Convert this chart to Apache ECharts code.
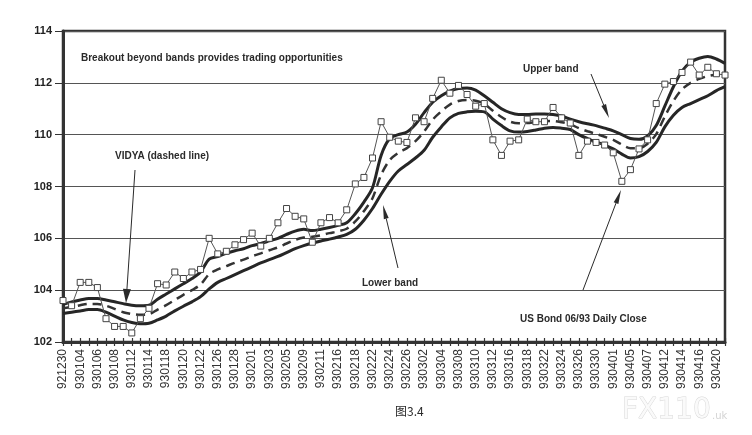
<!DOCTYPE html>
<html>
<head>
<meta charset="utf-8">
<script src="https://cdn.jsdelivr.net/npm/echarts@6/dist/echarts.min.js"></script>
<style>
  html, body { margin: 0; padding: 0; background: #fff; }
  #chart { width: 752px; height: 435px; }
</style>
</head>
<body>
<div id="chart"></div>
<script>
// trading days (labels shown on every other day)
var dates = ['921230','921231','930104','930105','930106','930107','930108','930111','930112','930113',
  '930114','930115','930118','930119','930120','930121','930122','930125','930126','930127',
  '930128','930129','930201','930202','930203','930204','930205','930208','930209','930210',
  '930211','930212','930216','930217','930218','930219','930222','930223','930224','930225',
  '930226','930301','930302','930303','930304','930305','930308','930309','930310','930311',
  '930312','930315','930316','930317','930318','930319','930322','930323','930324','930325',
  '930326','930329','930330','930331','930401','930402','930405','930406','930407','930408',
  '930412','930413','930414','930415','930416','930419','930420','930421'];

// US Bond 06/93 daily close
var closePrice = [103.6,103.4,104.3,104.3,104.1,102.9,102.6,102.6,102.35,102.9,
  103.3,104.25,104.2,104.7,104.45,104.7,104.8,106.0,105.4,105.5,
  105.75,105.95,106.2,105.7,106.0,106.6,107.15,106.85,106.75,105.85,
  106.6,106.8,106.6,107.1,108.1,108.35,109.1,110.5,109.9,109.75,
  109.7,110.65,110.5,111.4,112.1,111.6,111.9,111.55,111.1,111.2,
  109.8,109.2,109.75,109.8,110.6,110.5,110.5,111.05,110.65,110.45,
  109.2,109.75,109.7,109.6,109.3,108.2,108.65,109.45,109.8,111.2,
  111.95,112.05,112.4,112.8,112.3,112.6,112.35,112.3];

var upperBand = [103.45,103.55,103.62,103.68,103.68,103.62,103.55,103.48,103.42,103.4,
  103.42,103.65,103.85,104.05,104.25,104.45,104.7,105.2,105.3,105.42,
  105.52,105.6,105.72,105.8,105.9,106.0,106.15,106.28,106.35,106.3,
  106.35,106.42,106.5,106.6,106.95,107.4,107.95,109.2,109.85,110.0,
  110.1,110.4,110.85,111.25,111.5,111.68,111.78,111.8,111.72,111.5,
  111.25,111.0,110.85,110.78,110.78,110.8,110.8,110.78,110.72,110.6,
  110.5,110.42,110.35,110.25,110.15,110.0,109.85,109.82,109.95,110.35,
  111.1,111.85,112.45,112.8,112.95,113.02,112.92,112.75];

var vidya = [103.3,103.35,103.42,103.47,103.47,103.4,103.28,103.15,103.08,103.05,
  103.07,103.25,103.42,103.62,103.82,104.0,104.22,104.62,104.8,104.93,
  105.06,105.18,105.31,105.42,105.54,105.65,105.8,105.94,106.03,106.06,
  106.12,106.2,106.27,106.37,106.65,107.05,107.55,108.45,109.02,109.3,
  109.48,109.75,110.12,110.58,110.9,111.16,111.3,111.34,111.31,111.19,
  110.92,110.68,110.5,110.44,110.45,110.49,110.52,110.53,110.48,110.4,
  110.25,110.13,110.03,109.92,109.8,109.62,109.48,109.48,109.65,110.02,
  110.7,111.3,111.75,112.0,112.15,112.26,112.31,112.3];

var lowerBand = [103.1,103.15,103.2,103.25,103.25,103.15,103.0,102.85,102.75,102.7,
  102.72,102.85,103.0,103.2,103.38,103.55,103.75,104.05,104.3,104.45,
  104.6,104.75,104.9,105.05,105.18,105.3,105.45,105.6,105.72,105.82,
  105.9,105.97,106.05,106.15,106.35,106.7,107.15,107.7,108.2,108.6,
  108.85,109.1,109.4,109.9,110.3,110.65,110.82,110.88,110.9,110.88,
  110.6,110.35,110.15,110.1,110.12,110.18,110.25,110.28,110.25,110.2,
  110.0,109.85,109.72,109.6,109.45,109.25,109.1,109.15,109.35,109.7,
  110.3,110.75,111.05,111.2,111.35,111.5,111.7,111.85];

var yMin = 102, yMax = 114, yStep = 2;

var chart = echarts.init(document.getElementById('chart'));

var noteFont = 'bold 10px "Liberation Sans", Arial, sans-serif';
var ink = '#2a2a2a';

// thin arrow: line plus a filled head at (x2, y2)
function arrow(x1, y1, x2, y2, headLen, headW) {
  var dx = x2 - x1, dy = y2 - y1;
  var len = Math.sqrt(dx * dx + dy * dy);
  var ux = dx / len, uy = dy / len;
  var bx = x2 - ux * headLen, by = y2 - uy * headLen;
  var px = -uy * headW, py = ux * headW;
  return [
    { type: 'line', shape: { x1: x1, y1: y1, x2: bx, y2: by }, style: { stroke: ink, lineWidth: 1 }, z: 100 },
    { type: 'polygon', shape: { points: [[x2, y2], [bx + px, by + py], [bx - px, by - py]] }, style: { fill: ink }, z: 100 }
  ];
}

function note(text, x, y, font) {
  return { type: 'text', x: x, y: y, z: 100,
    style: { text: text, font: font || noteFont, fill: ink, textVerticalAlign: 'middle' } };
}

var graphics = [
  note('Breakout beyond bands provides trading opportunities', 81, 58),
  note('VIDYA (dashed line)', 115, 156),
  note('Upper band', 523, 69),
  note('Lower band', 362, 283),
  note('US Bond 06/93 Daily Close', 520, 319),
  note('图3.4', 395, 411, '12px "Noto Sans CJK SC", sans-serif'),
  { type: 'text', x: 622, y: 411, z: 1,
    style: { text: 'FX110', font: '28px "DejaVu Sans", sans-serif', fill: '#fafafa', stroke: '#d8d8d8', lineWidth: 1, textVerticalAlign: 'middle' } },
  { type: 'text', x: 712, y: 416, z: 1,
    style: { text: '.uk', font: '10px "DejaVu Sans", sans-serif', fill: '#d4d4d4', textVerticalAlign: 'middle' } }
];
graphics = graphics
  .concat(arrow(135, 170, 126, 303, 14, 4))
  .concat(arrow(591, 74, 609, 118, 14, 2.5))
  .concat(arrow(398, 268, 383, 205, 14, 2.5))
  .concat(arrow(583, 290, 621, 190, 14, 2.5));

var option = {
  backgroundColor: '#fff',
  animation: false,
  grid: {
    left: 63, right: 27, top: 31, bottom: 93,
    show: true,
    borderColor: '#333',
    borderWidth: 2.5
  },
  xAxis: [{
    type: 'category',
    data: dates,
    boundaryGap: false,
    position: 'bottom',
    axisLine: { lineStyle: { color: '#333', width: 3 } },
    axisTick: { interval: 0, length: 4, lineStyle: { color: '#333', width: 1.2 } },
    axisLabel: {
      interval: 1,
      rotate: 90,
      margin: 7,
      color: '#333',
      fontSize: 12,
      fontFamily: '"Liberation Sans Narrow", "Liberation Sans", sans-serif'
    },
    splitLine: { show: false }
  }, {
    type: 'category',
    data: dates,
    boundaryGap: false,
    position: 'bottom',
    offset: 0,
    axisLine: { show: false },
    axisTick: { interval: 0, inside: true, length: 4, lineStyle: { color: '#333', width: 1.2 } },
    axisLabel: { show: false },
    splitLine: { show: false }
  }],
  yAxis: {
    type: 'value',
    min: yMin,
    max: yMax,
    interval: yStep,
    axisLine: { show: true, lineStyle: { color: '#333', width: 3 } },
    axisTick: { show: true, length: 8, lineStyle: { color: '#333', width: 1 } },
    axisLabel: {
      margin: 11,
      color: '#222',
      fontSize: 11,
      fontWeight: 'bold',
      fontFamily: '"Liberation Sans", Arial, sans-serif'
    },
    splitLine: { show: true, lineStyle: { color: '#555', width: 1 } }
  },
  series: [{
    name: 'Upper band',
    type: 'line',
    data: upperBand,
    smooth: 0.3,
    symbol: 'none',
    lineStyle: { color: '#262626', width: 3 },
    z: 3
  }, {
    name: 'Lower band',
    type: 'line',
    data: lowerBand,
    smooth: 0.3,
    symbol: 'none',
    lineStyle: { color: '#262626', width: 3 },
    z: 3
  }, {
    name: 'VIDYA',
    type: 'line',
    data: vidya,
    smooth: 0.3,
    symbol: 'none',
    lineStyle: { color: '#333', width: 2.5, type: [9, 6] },
    z: 3
  }, {
    name: 'US Bond 06/93 Daily Close',
    type: 'line',
    data: closePrice,
    symbol: 'rect',
    symbolSize: 6,
    showAllSymbol: true,
    lineStyle: { color: '#555', width: 1 },
    itemStyle: { color: '#fff', borderColor: '#444', borderWidth: 1 },
    z: 4
  }],
  graphic: graphics
};

chart.setOption(option);

window.onresize = function() {
  chart.resize();
};
</script>
</body>
</html>
